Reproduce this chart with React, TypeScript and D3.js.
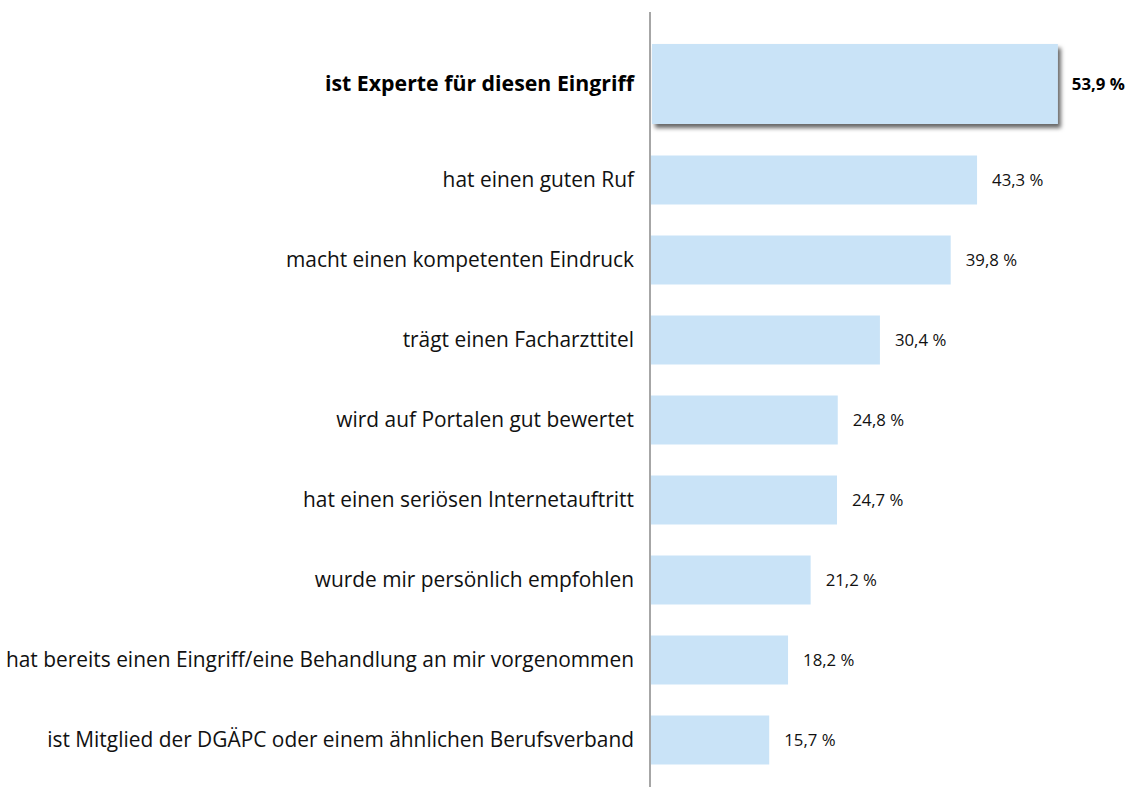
import React from "react";
import * as d3 from "d3";

const categories = [
  "ist Experte für diesen Eingriff",
  "hat einen guten Ruf",
  "macht einen kompetenten Eindruck",
  "trägt einen Facharzttitel",
  "wird auf Portalen gut bewertet",
  "hat einen seriösen Internetauftritt",
  "wurde mir persönlich empfohlen",
  "hat bereits einen Eingriff/eine Behandlung an mir vorgenommen",
  "ist Mitglied der DGÄPC oder einem ähnlichen Berufsverband",
];
const values = [53.9, 43.3, 39.8, 30.4, 24.8, 24.7, 21.2, 18.2, 15.7];
const valueLabels = ["53,9 %", "43,3 %", "39,8 %", "30,4 %", "24,8 %", "24,7 %", "21,2 %", "18,2 %", "15,7 %"];

const W = 1129;
const H = 787;
const axisX = 651;
const font = "'Open Sans', 'Noto Sans', sans-serif";

export default function App() {
  const x = d3.scaleLinear().domain([0, 100]).range([axisX, axisX + 753]);
  const rest = d3.range(1, categories.length);
  const y = d3.scaleBand<number>().domain(rest).range([140, 780]).paddingInner(0.3875).paddingOuter(0.19375);
  const topY = 44;
  const topH = 80;

  return (
    <svg width={W} height={H} style={{ position: "absolute", left: 0, top: 0, background: "#fff" }}>
      <defs>
        <filter id="sh" x="-5%" y="-20%" width="115%" height="160%">
          <feDropShadow dx="3" dy="4" stdDeviation="2" floodColor="#000" floodOpacity="0.6" />
        </filter>
      </defs>
      {/* top highlighted bar */}
      <rect x={x(0) + 1} y={topY} width={x(values[0]) - x(0)} height={topH} fill="#c9e3f7" filter="url(#sh)" />
      <text x={634} y={topY + topH / 2} dy="0.35em" textAnchor="end" fontFamily={font} fontSize={21.3} fontWeight="bold" fill="#000">
        {categories[0]}
      </text>
      <text x={x(values[0]) + 15} y={topY + topH / 2} dy="0.35em" fontFamily={font} fontSize={16.8} fontWeight="bold" fill="#000">
        {valueLabels[0]}
      </text>
      {rest.map((i) => {
        const by = y(i)!;
        const bh = y.bandwidth();
        return (
          <g key={i}>
            <rect x={x(0)} y={by} width={x(values[i]) - x(0)} height={bh} fill="#c9e3f7" />
            <text x={634} y={by + bh / 2} dy="0.35em" textAnchor="end" fontFamily={font} fontSize={20.9} fill="#111">
              {categories[i]}
            </text>
            <text x={x(values[i]) + 15} y={by + bh / 2} dy="0.35em" fontFamily={font} fontSize={16.8} fill="#111">
              {valueLabels[i]}
            </text>
          </g>
        );
      })}
      <line x1={axisX - 1} x2={axisX - 1} y1={12} y2={H} stroke="#a6a6a6" strokeWidth={2} />
    </svg>
  );
}
